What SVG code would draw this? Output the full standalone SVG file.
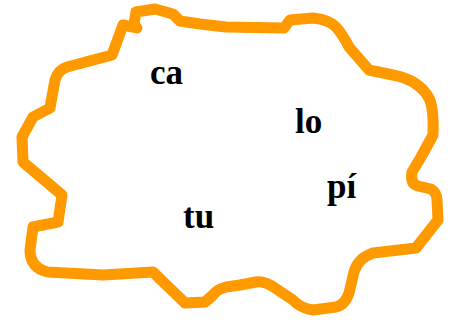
<svg xmlns="http://www.w3.org/2000/svg" width="452" height="320" viewBox="0 0 452 320">
<style>
.blob{fill:none;stroke:#FF9900;stroke-width:11;stroke-linejoin:round;stroke-linecap:round}
.lbl{font-family:"Liberation Serif","Times New Roman",serif;font-weight:bold;font-size:35px;fill:#000}
</style>
<rect width="452" height="320" fill="#fff"/>
<g id="region">
<path class="blob" d="M137,28 L134,24 L136,12 L155,9 L173,14 L180,21 L200,24 L226,27 L284,28 L290,20 L313,18 Q330,20 336,27 Q343,35 349,47 L369,70 L393,75 Q420,80 430,100 Q434,112 433,135 L421,157 L412,172 Q410,184 418,186 L431,189 Q437,193 437,200 L438,220 L416,248 L373,253 Q358,258 354,272 L349,293 Q345,305 336,307 L313,310 Q300,308 293,300 L272,286 Q263,281 256,282 L240,285 L226,287 Q216,290 213,295 L205,302 L185,303 L153,272 L103,275 L48,272 Q30,268 30,250 L33,227 L58,222 L62,195 L23,162 L22,137 L33,117 L50,108 L55,80 Q58,70 67,67 L112,55 L123,25 L133,27 Z"/>
</g>
<g id="labels">
<g id="n-ca"><text class="lbl" x="150" y="84">ca</text></g>
<g id="n-lo"><text class="lbl" x="295" y="133">lo</text></g>
<g id="n-pi"><text class="lbl" x="327" y="198">pí</text></g>
<g id="n-tu"><text class="lbl" x="183" y="228">tu</text></g>
</g>
<g id="connectors"></g>
</svg>
